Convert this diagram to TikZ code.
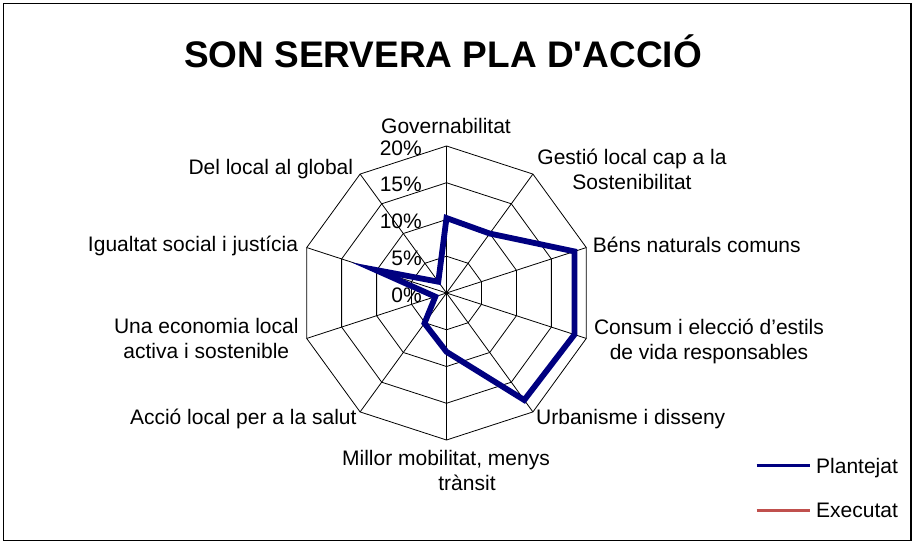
\documentclass[tikz,border=0pt]{standalone}
\usepackage{fontspec}
\defaultfontfeatures[\rmfamily,\sffamily]{}
\setmainfont{Liberation Sans}
\newfontfamily\titlefont{Liberation Sans}[BoldFont={Liberation Sans Bold}]
\definecolor{plan}{RGB}{0,0,128}
\definecolor{exec}{RGB}{192,80,77}
\begin{document}
\begin{tikzpicture}[x=1pt,y=1pt,
  lab/.style={font=\fontsize{21}{25}\selectfont, inner sep=0pt, align=center},
  gridline/.style={black, line width=0.8pt},
  dataline/.style={plan, line width=5.8pt, line join=miter},
  legline/.style={line width=3pt}]
\useasboundingbox (0,0) rectangle (913,544);
\draw[line width=1.5pt] (3.5,3.5) rectangle (911,540.5);
\node[font=\titlefont\fontsize{37}{40}\selectfont\bfseries, inner sep=0pt, anchor=base] (title) at (443,476) {SON SERVERA PLA D\char39 ACCIÓ};
\begin{scope}[shift={(446.5,251)}]
  \coordinate (C) at (0,0);
  \foreach \r in {36.75,73.5,110.25,147} {
    \draw[gridline] (90:\r) \foreach \k in {1,...,9}{ -- ({90-36*\k}:\r)} -- cycle;
  }
  \foreach \k in {0,...,9} { \draw[gridline] (C) -- ({90-36*\k}:147); }
  \fill (C) circle (1.5);
  \foreach \v/\t in {0/0\%,36.75/5\%,73.5/10\%,110.25/15\%,147/20\%} {
    \node[lab, anchor=east] at (-24.5,\v-2) {\t};
  }
  \coordinate (p0) at (90:{7.35*10.2});
  \coordinate (p1) at (54:{7.35*10.0});
  \coordinate (p2) at (18:{7.35*18.3});
  \coordinate (p3) at (-18:{7.35*18.3});
  \coordinate (p4) at (-54:{7.35*18.0});
  \coordinate (p5) at (-90:{7.35*8.0});
  \coordinate (p6) at (-126:{7.35*5.1});
  \coordinate (p7) at (-162:{7.35*1.6});
  \coordinate (p8) at (162:{7.35*10.2});
  \coordinate (p9) at (126:{7.35*1.9});
  \draw[dataline] (p0) -- (p1) -- (p2) -- (p3) -- (p4) -- (p5) -- (p6) -- (p7) -- (p8) -- (p9) -- cycle;
\end{scope}
\node[lab, anchor=base] (l0) at (446,410) {Governabilitat};
\node[lab, anchor=base] (l1) at (632,354.7) {Gestió local cap a la\\Sostenibilitat};
\node[lab, anchor=base west] (l2) at (592.7,291.3) {Béns naturals comuns};
\node[lab, anchor=base] (l3) at (709,184.7) {Consum i elecció d’estils\\de vida responsables};
\node[lab, anchor=base west] (l4) at (536,120) {Urbanisme i disseny};
\node[lab, anchor=base] (l5) at (446,54) {Millor mobilitat, menys\\\hspace*{42pt}trànsit};
\node[lab, anchor=base east] (l6) at (356.7,120) {Acció local per a la salut};
\node[lab, anchor=base] (l7) at (206.3,185.7) {Una economia local\\activa i sostenible};
\node[lab, anchor=base east] (l8) at (298.3,292.3) {Igualtat social i justícia};
\node[lab, anchor=base east] (l9) at (353.3,369) {Del local al global};
\coordinate (la1) at (756.7,79);
\coordinate (lb1) at (810,79);
\draw[legline, plan] (la1) -- (lb1);
\node[lab, anchor=base west] (lt1) at (816,70.7) {Plantejat};
\coordinate (la2) at (756.7,34);
\coordinate (lb2) at (810,34);
\draw[legline, exec] (la2) -- (lb2);
\node[lab, anchor=base west] (lt2) at (816,26.7) {Executat};
\end{tikzpicture}
\end{document}
